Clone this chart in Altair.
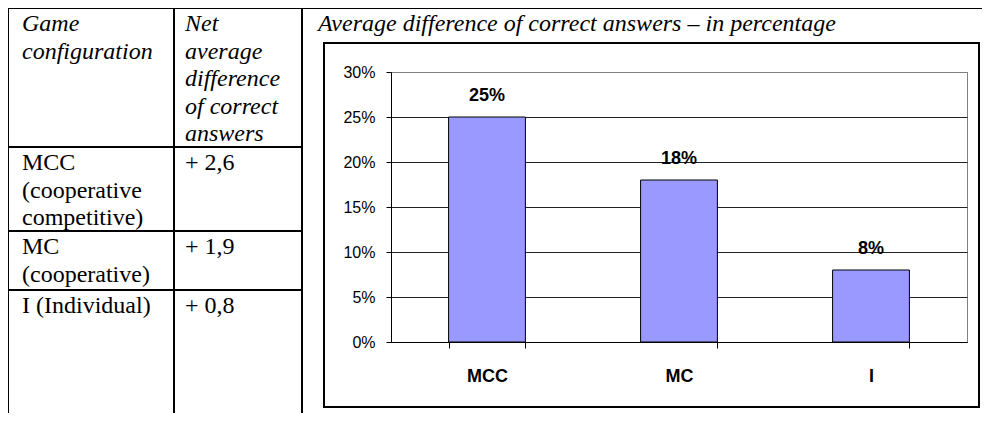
import altair as alt
import pandas as pd

# ---------------- data ----------------
categories = ["MCC", "MC", "I"]
percent_diff = [0.25, 0.18, 0.08]

header_config = "Game\nconfiguration"
header_net = "Net\naverage\ndifference\nof correct\nanswers"
chart_title = "Average difference of correct answers \u2013 in percentage"
config_names = ["MCC\n(cooperative\ncompetitive)", "MC\n(cooperative)", "I (Individual)"]
net_values = ["+ 2,6", "+ 1,9", "+ 0,8"]
y_tick_values = [0, 0.05, 0.10, 0.15, 0.20, 0.25, 0.30]

# ---------------- layout (page pixels) ----------------
OX, OY = 391, 72          # top-left of the bar plot area on the page
PW, PH = 576, 270         # plot area size
col_x = [8, 174, 302]     # table vertical lines
row_y = [147, 231, 290]   # table horizontal lines
top_y = 8
page_right, page_bottom = 990, 421
text_x = [22, 185]
header_baseline = 31
row_baselines = [170, 254, 313]
title_x = 318
box = (324, 43, 979, 407)
LINE_H = 27.5
SERIF = "'Liberation Serif', 'Times New Roman', Times, serif"
SANS = "'Liberation Sans', Arial, Helvetica, sans-serif"

def vx(p):
    return p - OX

def vy(p):
    return p - OY

# rules of the table
rules = [dict(x=vx(col_x[0]), y=vy(top_y), x2=vx(page_right), y2=vy(top_y))]
for cx in col_x:
    rules.append(dict(x=vx(cx), y=vy(top_y), x2=vx(cx), y2=vy(page_bottom)))
for ry in row_y:
    rules.append(dict(x=vx(col_x[0]), y=vy(ry), x2=vx(col_x[2]), y2=vy(ry)))
rules_df = pd.DataFrame(rules)

italic_df = pd.DataFrame([
    dict(x=vx(text_x[0]), y=vy(header_baseline), t=header_config),
    dict(x=vx(text_x[1]), y=vy(header_baseline), t=header_net),
    dict(x=vx(title_x), y=vy(header_baseline), t=chart_title),
])

body_rows = []
for name, val, base in zip(config_names, net_values, row_baselines):
    body_rows.append(dict(x=vx(text_x[0]), y=vy(base), t=name))
    body_rows.append(dict(x=vx(text_x[1]), y=vy(base), t=val))
body_df = pd.DataFrame(body_rows)

box_df = pd.DataFrame([dict(x=vx(box[0]), y=vy(box[1]), x2=vx(box[2]), y2=vy(box[3]))])

bars_df = pd.DataFrame({"cat": categories, "val": percent_diff})

# ---------------- layers ----------------
rule_layer = alt.Chart(rules_df).mark_rule(color="black", strokeWidth=2).encode(
    x=alt.X("x:Q", scale=None), y=alt.Y("y:Q", scale=None),
    x2="x2:Q", y2="y2:Q")

box_layer = alt.Chart(box_df).mark_rect(fillOpacity=0, stroke="black", strokeWidth=2).encode(
    x=alt.X("x:Q", scale=None), y=alt.Y("y:Q", scale=None),
    x2="x2:Q", y2="y2:Q")

italic_layer = alt.Chart(italic_df).mark_text(
    font=SERIF, fontSize=24, fontStyle="italic", align="left",
    baseline="alphabetic", lineBreak="\n", lineHeight=LINE_H, color="black").encode(
    x=alt.X("x:Q", scale=None), y=alt.Y("y:Q", scale=None), text="t:N")

body_layer = alt.Chart(body_df).mark_text(
    font=SERIF, fontSize=24, align="left",
    baseline="alphabetic", lineBreak="\n", lineHeight=LINE_H, color="black").encode(
    x=alt.X("x:Q", scale=None), y=alt.Y("y:Q", scale=None), text="t:N")

xenc = alt.X("cat:N", sort=categories,
             scale=alt.Scale(paddingInner=0.6, paddingOuter=0.3),
             axis=alt.Axis(title=None, labelAngle=0, labelFont=SANS,
                           labelFontWeight="bold", labelFontSize=18, labelColor="black",
                           tickBand="extent", tickSize=6, tickColor="black",
                           domainColor="black", labelPadding=19, grid=False))
yenc = alt.Y("val:Q", scale=alt.Scale(domain=[0, 0.3], nice=False),
             axis=alt.Axis(title=None, values=y_tick_values, format=".0%",
                           labelFont=SANS, labelFontSize=16, labelColor="black",
                           tickSize=5, tickColor="black", labelPadding=11,
                           domainColor="black", gridWidth=1,
                           gridColor={"condition": {"test": "datum.value >= 0.29", "value": "#808080"},
                                      "value": "#222222"}))

bar_layer = alt.Chart(bars_df).mark_bar(color="#9999FF", stroke="black", strokeWidth=1).encode(
    x=xenc, y=yenc)

label_layer = alt.Chart(bars_df).mark_text(
    font=SANS, fontWeight="bold", fontSize=18, baseline="alphabetic",
    dy=-16, color="black").encode(
    x=alt.X("cat:N", sort=categories), y=alt.Y("val:Q"), text=alt.Text("val:Q", format=".0%"))

bars = alt.layer(bar_layer, label_layer)

chart = alt.layer(rule_layer, box_layer, italic_layer, body_layer, bars).resolve_scale(
    x="independent", y="independent"
).properties(
    width=PW, height=PH,
    autosize=alt.AutoSizeParams(type="none"),
    padding={"left": OX - 8, "top": OY - 8, "right": 974 - (OX - 8) - PW, "bottom": 405 - (OY - 8) - PH},
    background="white",
).configure_view(stroke="#808080", strokeWidth=1)

chart.save("out.html", embed_options={"renderer": "svg", "actions": False})
